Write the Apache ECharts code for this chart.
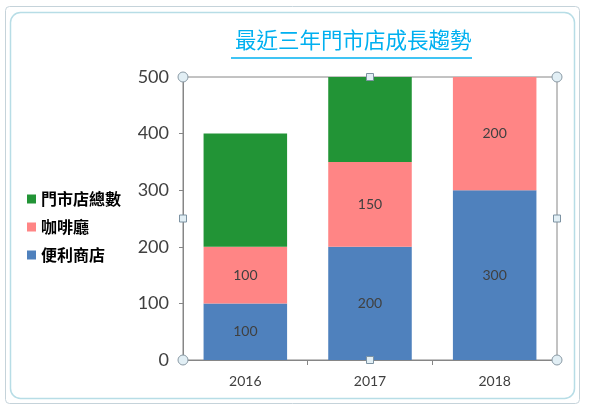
<!DOCTYPE html>
<html lang="zh-Hant">
<head>
  <meta charset="UTF-8">
  <title>最近三年門市店成長趨勢</title>
  <script src="https://cdn.jsdelivr.net/npm/echarts@6/dist/echarts.min.js"></script>
  <style>
    * { margin: 0; padding: 0; }
    body { background: #fff; }
    #chart { width: 600px; height: 411px; }
  </style>
</head>
<body>
  <div id="chart"></div>
  <script>
    // 資料
    const years = ['2016', '2017', '2018']
    const store = [100, 200, 300]      // 便利商店
    const cafe = [100, 150, 200]       // 咖啡廳
    const total = [200, 350, 500]      // 門市店總數
    const yTicks = [0, 100, 200, 300, 400, 500]

    const numFont = 'Lato, "Noto Sans", sans-serif'
    const cjkFont = '"Noto Sans CJK TC", sans-serif'

    // 圖表區四角/中點的選取把手 (裝飾)
    const L = 183, R = 557, T = 77, B = 360
    const handles = []
    ;[[L, T], [R, T], [L, B], [R, B]].forEach(p => {
      handles.push({ type: 'circle', shape: { cx: p[0], cy: p[1], r: 5 },
        style: { fill: '#e2eff5', stroke: '#8a9aa5', lineWidth: 1 }, z: 100 })
    })
    ;[[(L + R) / 2, T], [(L + R) / 2, B], [L, (T + B) / 2], [R, (T + B) / 2]].forEach(p => {
      handles.push({ type: 'rect', shape: { x: p[0] - 3.5, y: p[1] - 3.5, width: 7, height: 7 },
        style: { fill: '#e2eff5', stroke: '#7d93a3', lineWidth: 1 }, z: 100 })
    })

    const chart = echarts.init(document.getElementById('chart'))
    const label = { show: true, position: 'inside', color: '#404040', fontSize: 14, fontFamily: numFont }

    const option = {
      animation: false,
      title: {
        text: '最近三年門市店成長趨勢',
        left: 230, top: 24,
        textStyle: { color: '#00b0f0', fontSize: 21.5, fontWeight: 'normal', fontFamily: cjkFont }
      },
      legend: {
        orient: 'vertical', left: 22, top: 186,
        icon: 'rect', itemWidth: 9, itemHeight: 9, itemGap: 12,
        data: ['門市店總數', '咖啡廳', '便利商店'],
        textStyle: { color: '#000', fontSize: 16, fontWeight: 'bold', fontFamily: cjkFont }
      },
      grid: { left: L, right: 600 - R, top: T, bottom: 411 - B, show: true, borderColor: '#868686', borderWidth: 1 },
      xAxis: {
        type: 'category', data: years,
        axisLine: { lineStyle: { color: '#868686' } },
        axisTick: { show: true, length: 5, lineStyle: { color: '#868686' } },
        axisLabel: { color: '#404040', fontSize: 14, fontFamily: numFont, margin: 14 }
      },
      yAxis: {
        type: 'value', min: yTicks[0], max: yTicks[yTicks.length - 1], interval: 100,
        axisLine: { show: true, lineStyle: { color: '#868686' } },
        axisTick: { show: true, length: 4, lineStyle: { color: '#868686' } },
        splitLine: { show: false },
        axisLabel: { color: '#404040', fontSize: 18, fontFamily: numFont, margin: 14 }
      },
      series: [
        { name: '便利商店', type: 'bar', stack: 'a', data: store, barWidth: '67%',
          itemStyle: { color: '#4f81bd' }, label: label },
        { name: '咖啡廳', type: 'bar', stack: 'a', data: cafe,
          itemStyle: { color: '#ff8585' }, label: label },
        { name: '門市店總數', type: 'bar', stack: 'a', data: total,
          itemStyle: { color: '#229436' } }
      ],
      graphic: [
        { type: 'rect', shape: { x: 5.5, y: 6.5, width: 574, height: 397, r: 4 },
          style: { fill: 'none', stroke: '#c5d3da', lineWidth: 1 } },
        { type: 'rect', shape: { x: 10.5, y: 12.5, width: 564, height: 386, r: 10 },
          style: { fill: 'none', stroke: '#b7dde6', lineWidth: 1.5 } },
        { type: 'line', shape: { x1: 231, y1: 58, x2: 472, y2: 58 },
          style: { stroke: '#00b0f0', lineWidth: 1.5 } }
      ].concat(handles)
    }

    chart.setOption(option)
  </script>
</body>
</html>
